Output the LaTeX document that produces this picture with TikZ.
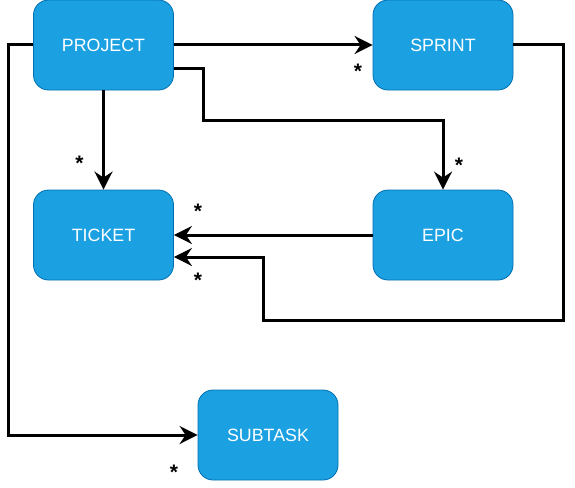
\documentclass[tikz,border=0pt]{standalone}
\usepackage{fontspec}
\setmainfont{Liberation Sans}
\usetikzlibrary{arrows.meta,calc}
\definecolor{boxfill}{HTML}{1BA1E2}
\definecolor{boxline}{HTML}{006EAF}
\tikzset{
  entity/.style={draw=boxline, fill=boxfill, line width=0.8pt, rounded corners=15pt,
    minimum width=140pt, minimum height=90pt, inner sep=0pt,
    text=white, font=\fontsize{17.8}{20}\selectfont},
  conn/.style={line width=3pt, -{Stealth[length=18pt,width=18pt,inset=6pt]}},
  mult/.style={anchor=base, inner sep=0pt, font=\bfseries\fontsize{21}{22}\selectfont}
}
\begin{document}
\begin{tikzpicture}[x=1pt,y=-1pt]
\useasboundingbox (0,0) rectangle (575,487);
\node[entity] (project) at (103.5,45) {PROJECT};
\node[entity] (sprint) at (443,45) {SPRINT};
\node[entity] (ticket) at (103.5,235) {TICKET};
\node[entity] (epic) at (443,235) {EPIC};
\node[entity] (subtask) at (268,435) {SUBTASK};

\draw[conn] (project.east) -- (sprint.west);
\draw[conn] ([yshift=-23pt]project.east) -| (203,120) -| (epic.north);
\draw[conn] (project.south) -- (ticket.north);
\draw[conn] (epic.west) -- (ticket.east);
\draw[conn] (sprint.east) -| (563,320) -| (263,257) -- ([yshift=-22pt]ticket.east);
\draw[conn] (project.west) -| (8,435) -- (subtask.west);

\node[mult] (m1) at (358,78) {*};
\node[mult] (m2) at (459,172) {*};
\node[mult] (m3) at (79.5,170) {*};
\node[mult] (m4) at (198,218) {*};
\node[mult] (m5) at (198,287) {*};
\node[mult] (m6) at (174,479) {*};
\end{tikzpicture}
\end{document}
